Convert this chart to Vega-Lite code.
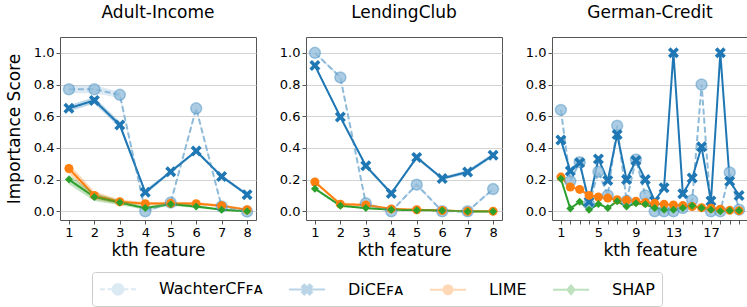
{
  "$schema": "https://vega.github.io/schema/vega-lite/v6.json",
  "padding": {"left": 4, "top": 3, "right": 0, "bottom": 0},
  "data": {"values": [
    {"p":"Adult-Income","k":1,"m":"WachterCF","v":0.77,"e":0.025},
    {"p":"Adult-Income","k":2,"m":"WachterCF","v":0.77,"e":0.025},
    {"p":"Adult-Income","k":3,"m":"WachterCF","v":0.735,"e":0.02},
    {"p":"Adult-Income","k":4,"m":"WachterCF","v":0.0,"e":0.01},
    {"p":"Adult-Income","k":5,"m":"WachterCF","v":0.055,"e":0.01},
    {"p":"Adult-Income","k":6,"m":"WachterCF","v":0.65,"e":0.01},
    {"p":"Adult-Income","k":7,"m":"WachterCF","v":0.03,"e":0.01},
    {"p":"Adult-Income","k":8,"m":"WachterCF","v":-0.002,"e":0.005},
    {"p":"Adult-Income","k":1,"m":"DiCE","v":0.65,"e":0.02},
    {"p":"Adult-Income","k":2,"m":"DiCE","v":0.7,"e":0.02},
    {"p":"Adult-Income","k":3,"m":"DiCE","v":0.545,"e":0.02},
    {"p":"Adult-Income","k":4,"m":"DiCE","v":0.12,"e":0.015},
    {"p":"Adult-Income","k":5,"m":"DiCE","v":0.25,"e":0.01},
    {"p":"Adult-Income","k":6,"m":"DiCE","v":0.38,"e":0.01},
    {"p":"Adult-Income","k":7,"m":"DiCE","v":0.22,"e":0.01},
    {"p":"Adult-Income","k":8,"m":"DiCE","v":0.105,"e":0.01},
    {"p":"Adult-Income","k":1,"m":"LIME","v":0.27,"e":0.03},
    {"p":"Adult-Income","k":2,"m":"LIME","v":0.1,"e":0.025},
    {"p":"Adult-Income","k":3,"m":"LIME","v":0.06,"e":0.015},
    {"p":"Adult-Income","k":4,"m":"LIME","v":0.048,"e":0.01},
    {"p":"Adult-Income","k":5,"m":"LIME","v":0.05,"e":0.01},
    {"p":"Adult-Income","k":6,"m":"LIME","v":0.048,"e":0.01},
    {"p":"Adult-Income","k":7,"m":"LIME","v":0.035,"e":0.01},
    {"p":"Adult-Income","k":8,"m":"LIME","v":0.01,"e":0.005},
    {"p":"Adult-Income","k":1,"m":"SHAP","v":0.2,"e":0.03},
    {"p":"Adult-Income","k":2,"m":"SHAP","v":0.09,"e":0.025},
    {"p":"Adult-Income","k":3,"m":"SHAP","v":0.055,"e":0.015},
    {"p":"Adult-Income","k":4,"m":"SHAP","v":0.02,"e":0.01},
    {"p":"Adult-Income","k":5,"m":"SHAP","v":0.045,"e":0.01},
    {"p":"Adult-Income","k":6,"m":"SHAP","v":0.03,"e":0.01},
    {"p":"Adult-Income","k":7,"m":"SHAP","v":0.01,"e":0.005},
    {"p":"Adult-Income","k":8,"m":"SHAP","v":0.0,"e":0.005},

    {"p":"LendingClub","k":1,"m":"WachterCF","v":1.0,"e":0.005},
    {"p":"LendingClub","k":2,"m":"WachterCF","v":0.845,"e":0.01},
    {"p":"LendingClub","k":3,"m":"WachterCF","v":0.05,"e":0.005},
    {"p":"LendingClub","k":4,"m":"WachterCF","v":0.0,"e":0.005},
    {"p":"LendingClub","k":5,"m":"WachterCF","v":0.168,"e":0.01},
    {"p":"LendingClub","k":6,"m":"WachterCF","v":0.0,"e":0.005},
    {"p":"LendingClub","k":7,"m":"WachterCF","v":0.0,"e":0.005},
    {"p":"LendingClub","k":8,"m":"WachterCF","v":0.14,"e":0.01},
    {"p":"LendingClub","k":1,"m":"DiCE","v":0.92,"e":0.01},
    {"p":"LendingClub","k":2,"m":"DiCE","v":0.595,"e":0.01},
    {"p":"LendingClub","k":3,"m":"DiCE","v":0.287,"e":0.01},
    {"p":"LendingClub","k":4,"m":"DiCE","v":0.113,"e":0.01},
    {"p":"LendingClub","k":5,"m":"DiCE","v":0.34,"e":0.01},
    {"p":"LendingClub","k":6,"m":"DiCE","v":0.207,"e":0.01},
    {"p":"LendingClub","k":7,"m":"DiCE","v":0.248,"e":0.012},
    {"p":"LendingClub","k":8,"m":"DiCE","v":0.354,"e":0.012},
    {"p":"LendingClub","k":1,"m":"LIME","v":0.185,"e":0.01},
    {"p":"LendingClub","k":2,"m":"LIME","v":0.045,"e":0.01},
    {"p":"LendingClub","k":3,"m":"LIME","v":0.04,"e":0.008},
    {"p":"LendingClub","k":4,"m":"LIME","v":0.015,"e":0.005},
    {"p":"LendingClub","k":5,"m":"LIME","v":0.01,"e":0.005},
    {"p":"LendingClub","k":6,"m":"LIME","v":0.005,"e":0.004},
    {"p":"LendingClub","k":7,"m":"LIME","v":0.0,"e":0.003},
    {"p":"LendingClub","k":8,"m":"LIME","v":0.0,"e":0.003},
    {"p":"LendingClub","k":1,"m":"SHAP","v":0.143,"e":0.008},
    {"p":"LendingClub","k":2,"m":"SHAP","v":0.035,"e":0.006},
    {"p":"LendingClub","k":3,"m":"SHAP","v":0.02,"e":0.005},
    {"p":"LendingClub","k":4,"m":"SHAP","v":0.01,"e":0.004},
    {"p":"LendingClub","k":5,"m":"SHAP","v":0.007,"e":0.004},
    {"p":"LendingClub","k":6,"m":"SHAP","v":0.005,"e":0.003},
    {"p":"LendingClub","k":7,"m":"SHAP","v":-0.002,"e":0.003},
    {"p":"LendingClub","k":8,"m":"SHAP","v":-0.002,"e":0.003},

    {"p":"German-Credit","k":1,"m":"WachterCF","v":0.64,"e":0.005},
    {"p":"German-Credit","k":2,"m":"WachterCF","v":0.19,"e":0.005},
    {"p":"German-Credit","k":3,"m":"WachterCF","v":0.31,"e":0.005},
    {"p":"German-Credit","k":4,"m":"WachterCF","v":0.045,"e":0.005},
    {"p":"German-Credit","k":5,"m":"WachterCF","v":0.25,"e":0.005},
    {"p":"German-Credit","k":6,"m":"WachterCF","v":0.1,"e":0.005},
    {"p":"German-Credit","k":7,"m":"WachterCF","v":0.54,"e":0.005},
    {"p":"German-Credit","k":8,"m":"WachterCF","v":0.065,"e":0.005},
    {"p":"German-Credit","k":9,"m":"WachterCF","v":0.327,"e":0.005},
    {"p":"German-Credit","k":10,"m":"WachterCF","v":0.1,"e":0.005},
    {"p":"German-Credit","k":11,"m":"WachterCF","v":0.0,"e":0.005},
    {"p":"German-Credit","k":12,"m":"WachterCF","v":0.0,"e":0.005},
    {"p":"German-Credit","k":13,"m":"WachterCF","v":0.0,"e":0.005},
    {"p":"German-Credit","k":14,"m":"WachterCF","v":0.02,"e":0.005},
    {"p":"German-Credit","k":15,"m":"WachterCF","v":0.07,"e":0.005},
    {"p":"German-Credit","k":16,"m":"WachterCF","v":0.8,"e":0.005},
    {"p":"German-Credit","k":17,"m":"WachterCF","v":0.0,"e":0.005},
    {"p":"German-Credit","k":18,"m":"WachterCF","v":0.0,"e":0.005},
    {"p":"German-Credit","k":19,"m":"WachterCF","v":0.245,"e":0.005},
    {"p":"German-Credit","k":20,"m":"WachterCF","v":0.01,"e":0.005},
    {"p":"German-Credit","k":1,"m":"DiCE","v":0.45,"e":0.005},
    {"p":"German-Credit","k":2,"m":"DiCE","v":0.254,"e":0.005},
    {"p":"German-Credit","k":3,"m":"DiCE","v":0.306,"e":0.005},
    {"p":"German-Credit","k":4,"m":"DiCE","v":0.06,"e":0.005},
    {"p":"German-Credit","k":5,"m":"DiCE","v":0.33,"e":0.005},
    {"p":"German-Credit","k":6,"m":"DiCE","v":0.195,"e":0.005},
    {"p":"German-Credit","k":7,"m":"DiCE","v":0.484,"e":0.005},
    {"p":"German-Credit","k":8,"m":"DiCE","v":0.2,"e":0.005},
    {"p":"German-Credit","k":9,"m":"DiCE","v":0.32,"e":0.005},
    {"p":"German-Credit","k":10,"m":"DiCE","v":0.2,"e":0.005},
    {"p":"German-Credit","k":11,"m":"DiCE","v":0.065,"e":0.005},
    {"p":"German-Credit","k":12,"m":"DiCE","v":0.149,"e":0.005},
    {"p":"German-Credit","k":13,"m":"DiCE","v":1.0,"e":0.005},
    {"p":"German-Credit","k":14,"m":"DiCE","v":0.111,"e":0.005},
    {"p":"German-Credit","k":15,"m":"DiCE","v":0.21,"e":0.005},
    {"p":"German-Credit","k":16,"m":"DiCE","v":0.407,"e":0.005},
    {"p":"German-Credit","k":17,"m":"DiCE","v":0.065,"e":0.005},
    {"p":"German-Credit","k":18,"m":"DiCE","v":1.0,"e":0.005},
    {"p":"German-Credit","k":19,"m":"DiCE","v":0.19,"e":0.005},
    {"p":"German-Credit","k":20,"m":"DiCE","v":0.1,"e":0.005},
    {"p":"German-Credit","k":1,"m":"LIME","v":0.216,"e":0.005},
    {"p":"German-Credit","k":2,"m":"LIME","v":0.153,"e":0.005},
    {"p":"German-Credit","k":3,"m":"LIME","v":0.138,"e":0.005},
    {"p":"German-Credit","k":4,"m":"LIME","v":0.1,"e":0.005},
    {"p":"German-Credit","k":5,"m":"LIME","v":0.09,"e":0.005},
    {"p":"German-Credit","k":6,"m":"LIME","v":0.084,"e":0.005},
    {"p":"German-Credit","k":7,"m":"LIME","v":0.073,"e":0.005},
    {"p":"German-Credit","k":8,"m":"LIME","v":0.069,"e":0.005},
    {"p":"German-Credit","k":9,"m":"LIME","v":0.063,"e":0.005},
    {"p":"German-Credit","k":10,"m":"LIME","v":0.055,"e":0.005},
    {"p":"German-Credit","k":11,"m":"LIME","v":0.05,"e":0.005},
    {"p":"German-Credit","k":12,"m":"LIME","v":0.044,"e":0.005},
    {"p":"German-Credit","k":13,"m":"LIME","v":0.04,"e":0.005},
    {"p":"German-Credit","k":14,"m":"LIME","v":0.036,"e":0.005},
    {"p":"German-Credit","k":15,"m":"LIME","v":0.03,"e":0.005},
    {"p":"German-Credit","k":16,"m":"LIME","v":0.023,"e":0.005},
    {"p":"German-Credit","k":17,"m":"LIME","v":0.019,"e":0.005},
    {"p":"German-Credit","k":18,"m":"LIME","v":0.013,"e":0.005},
    {"p":"German-Credit","k":19,"m":"LIME","v":0.006,"e":0.004},
    {"p":"German-Credit","k":20,"m":"LIME","v":0.004,"e":0.004},
    {"p":"German-Credit","k":1,"m":"SHAP","v":0.205,"e":0.005},
    {"p":"German-Credit","k":2,"m":"SHAP","v":0.017,"e":0.005},
    {"p":"German-Credit","k":3,"m":"SHAP","v":0.06,"e":0.005},
    {"p":"German-Credit","k":4,"m":"SHAP","v":0.01,"e":0.005},
    {"p":"German-Credit","k":5,"m":"SHAP","v":0.046,"e":0.005},
    {"p":"German-Credit","k":6,"m":"SHAP","v":0.021,"e":0.005},
    {"p":"German-Credit","k":7,"m":"SHAP","v":0.063,"e":0.005},
    {"p":"German-Credit","k":8,"m":"SHAP","v":0.03,"e":0.005},
    {"p":"German-Credit","k":9,"m":"SHAP","v":0.05,"e":0.005},
    {"p":"German-Credit","k":10,"m":"SHAP","v":0.044,"e":0.005},
    {"p":"German-Credit","k":11,"m":"SHAP","v":0.02,"e":0.005},
    {"p":"German-Credit","k":12,"m":"SHAP","v":0.01,"e":0.005},
    {"p":"German-Credit","k":13,"m":"SHAP","v":0.01,"e":0.005},
    {"p":"German-Credit","k":14,"m":"SHAP","v":0.02,"e":0.005},
    {"p":"German-Credit","k":15,"m":"SHAP","v":0.035,"e":0.005},
    {"p":"German-Credit","k":16,"m":"SHAP","v":0.02,"e":0.005},
    {"p":"German-Credit","k":17,"m":"SHAP","v":0.01,"e":0.005},
    {"p":"German-Credit","k":18,"m":"SHAP","v":0.0,"e":0.005},
    {"p":"German-Credit","k":19,"m":"SHAP","v":0.005,"e":0.004},
    {"p":"German-Credit","k":20,"m":"SHAP","v":0.005,"e":0.004}
  ]},
  "spacing": 21,
  "hconcat": [
    {
      "width": 196, "height": 183,
      "title": "Adult-Income",
      "transform": [{"filter": "datum.p == 'Adult-Income'"}],
      "encoding": {
        "x": {"field": "k", "type": "quantitative", "scale": {"domain": [0.65, 8.35], "nice": false, "zero": false},
              "axis": {"values": [1,2,3,4,5,6,7,8], "title": "kth feature"}},
        "y": {"field": "v", "type": "quantitative", "scale": {"domain": [-0.055, 1.1], "nice": false, "zero": false},
              "axis": {"values": [0,0.2,0.4,0.6,0.8,1.0], "format": ".1f", "title": "Importance Score"}}
      },
      "layer": [
        {"mark": {"type": "line", "strokeWidth": 2},
         "encoding": {
           "color": {"field": "m", "type": "nominal", "scale": {"domain": ["WachterCF","DiCE","LIME","SHAP"], "range": ["#8fbbd9","#1f77b4","#ff7f0e","#2ca02c"]},
             "legend": {
               "orient": "none", "legendX": 32, "legendY": 235, "direction": "horizontal", "columns": 4, "title": null,
               "labelFontSize": 16, "labelColor": "#000000", "labelFont": "DejaVu Sans",
               "symbolSize": 324, "symbolOffset": 9, "labelOffset": 31, "columnPadding": 22,
               "symbolStrokeWidth": 2, "symbolOpacity": 1,
               "padding": 7, "strokeColor": "#cccccc", "cornerRadius": 3, "fillColor": "#ffffff",
               "labelExpr": "datum.value == 'WachterCF' ? 'WachterCFꜰᴀ' : datum.value == 'DiCE' ? 'DiCEꜰᴀ' : datum.value"
             }},
           "strokeDash": {"condition": {"test": "datum.m == 'WachterCF'", "value": [6, 3]}, "value": [1, 0]}
         }},
        {"mark": {"type": "errorband", "band": {"opacity": 0.3}},
         "encoding": {"yError": {"field": "e"},
           "color": {"field": "m", "type": "nominal", "scale": {"domain": ["WachterCF","DiCE","LIME","SHAP"], "range": ["#8fbbd9","#1f77b4","#ff7f0e","#2ca02c"]}}}},
        {"mark": {"type": "point", "filled": true, "strokeWidth": 1.5, "opacity": 1},
         "encoding": {
           "color": {"field": "m", "type": "nominal", "scale": {"domain": ["WachterCF","DiCE","LIME","SHAP"], "range": ["#8fbbd9","#1f77b4","#ff7f0e","#2ca02c"]}},
           "shape": {"condition": [{"test": "datum.m == 'DiCE'", "value": "M0.538,-1L1,-0.538L0.462,0L1,0.538L0.538,1L0,0.462L-0.538,1L-1,0.538L-0.462,0L-1,-0.538L-0.538,-1L0,-0.462Z"}, {"test": "datum.m == 'SHAP'", "value": "diamond"}], "value": "circle"},
           "size": {"condition": [{"test": "datum.m == 'LIME'", "value": 81}, {"test": "datum.m == 'SHAP'", "value": 64}], "value": 121},
           "stroke": {"condition": {"test": "datum.m == 'WachterCF'", "value": "#1f77b4"}, "value": "transparent"},
           "fillOpacity": {"condition": {"test": "datum.m == 'WachterCF'", "value": 0.75}, "value": 1},
           "strokeOpacity": {"condition": {"test": "datum.m == 'WachterCF'", "value": 0.35}, "value": 1}
         }},
        {"transform": [{"filter": "false"}],
         "mark": {"type": "point", "filled": true},
         "encoding": {
           "color": {"field": "m", "type": "nominal", "scale": {"domain": ["WachterCF","DiCE","LIME","SHAP"], "range": ["#8fbbd9","#1f77b4","#ff7f0e","#2ca02c"]}},
           "shape": {"field": "m", "type": "nominal", "scale": {"domain": ["WachterCF","DiCE","LIME","SHAP"], "range": [
             "M-2,0H-1.45M-1.15,0H-0.6M0.6,0H1.15M1.45,0H2M0.6,0A0.6,0.6,0,1,1,-0.6,0A0.6,0.6,0,1,1,0.6,0Z",
             "M-2,0H2M0.3,-0.55L0.55,-0.3L0.25,0L0.55,0.3L0.3,0.55L0,0.25L-0.3,0.55L-0.55,0.3L-0.25,0L-0.55,-0.3L-0.3,-0.55L0,-0.25Z",
             "M-2,0H2M0.5,0A0.5,0.5,0,1,1,-0.5,0A0.5,0.5,0,1,1,0.5,0Z",
             "M-2,0H2M0,-0.5L0.4,0L0,0.5L-0.4,0Z"]}}
         }}
      ]
    },
    {
      "width": 196, "height": 183,
      "title": "LendingClub",
      "transform": [{"filter": "datum.p == 'LendingClub'"}],
      "encoding": {
        "x": {"field": "k", "type": "quantitative", "scale": {"domain": [0.65, 8.35], "nice": false, "zero": false},
              "axis": {"values": [1,2,3,4,5,6,7,8], "title": "kth feature"}},
        "y": {"field": "v", "type": "quantitative", "scale": {"domain": [-0.055, 1.1], "nice": false, "zero": false},
              "axis": {"values": [0,0.2,0.4,0.6,0.8,1.0], "format": ".1f", "title": null}}
      },
      "layer": [
        {"mark": {"type": "line", "strokeWidth": 2},
         "encoding": {
           "color": {"field": "m", "type": "nominal", "scale": {"domain": ["WachterCF","DiCE","LIME","SHAP"], "range": ["#8fbbd9","#1f77b4","#ff7f0e","#2ca02c"]}},
           "strokeDash": {"condition": {"test": "datum.m == 'WachterCF'", "value": [6, 3]}, "value": [1, 0]}
         }},
        {"mark": {"type": "errorband", "band": {"opacity": 0.3}},
         "encoding": {"yError": {"field": "e"},
           "color": {"field": "m", "type": "nominal", "scale": {"domain": ["WachterCF","DiCE","LIME","SHAP"], "range": ["#8fbbd9","#1f77b4","#ff7f0e","#2ca02c"]}}}},
        {"mark": {"type": "point", "filled": true, "strokeWidth": 1.5, "opacity": 1},
         "encoding": {
           "color": {"field": "m", "type": "nominal", "scale": {"domain": ["WachterCF","DiCE","LIME","SHAP"], "range": ["#8fbbd9","#1f77b4","#ff7f0e","#2ca02c"]}},
           "shape": {"condition": [{"test": "datum.m == 'DiCE'", "value": "M0.538,-1L1,-0.538L0.462,0L1,0.538L0.538,1L0,0.462L-0.538,1L-1,0.538L-0.462,0L-1,-0.538L-0.538,-1L0,-0.462Z"}, {"test": "datum.m == 'SHAP'", "value": "diamond"}], "value": "circle"},
           "size": {"condition": [{"test": "datum.m == 'LIME'", "value": 81}, {"test": "datum.m == 'SHAP'", "value": 64}], "value": 121},
           "stroke": {"condition": {"test": "datum.m == 'WachterCF'", "value": "#1f77b4"}, "value": "transparent"},
           "fillOpacity": {"condition": {"test": "datum.m == 'WachterCF'", "value": 0.75}, "value": 1},
           "strokeOpacity": {"condition": {"test": "datum.m == 'WachterCF'", "value": 0.35}, "value": 1}
         }}
      ]
    },
    {
      "width": 196, "height": 183,
      "title": "German-Credit",
      "transform": [{"filter": "datum.p == 'German-Credit'"}],
      "encoding": {
        "x": {"field": "k", "type": "quantitative", "scale": {"domain": [0.05, 20.95], "nice": false, "zero": false},
              "axis": {"values": [1,2,3,4,5,6,7,8,9,10,11,12,13,14,15,16,17,18,19,20], "labelExpr": "(datum.value - 1) % 4 == 0 ? datum.label : ''", "title": "kth feature"}},
        "y": {"field": "v", "type": "quantitative", "scale": {"domain": [-0.055, 1.1], "nice": false, "zero": false},
              "axis": {"values": [0,0.2,0.4,0.6,0.8,1.0], "format": ".1f", "title": null}}
      },
      "layer": [
        {"mark": {"type": "line", "strokeWidth": 2},
         "encoding": {
           "color": {"field": "m", "type": "nominal", "scale": {"domain": ["WachterCF","DiCE","LIME","SHAP"], "range": ["#8fbbd9","#1f77b4","#ff7f0e","#2ca02c"]}},
           "strokeDash": {"condition": {"test": "datum.m == 'WachterCF'", "value": [6, 3]}, "value": [1, 0]}
         }},
        {"mark": {"type": "errorband", "band": {"opacity": 0.3}},
         "encoding": {"yError": {"field": "e"},
           "color": {"field": "m", "type": "nominal", "scale": {"domain": ["WachterCF","DiCE","LIME","SHAP"], "range": ["#8fbbd9","#1f77b4","#ff7f0e","#2ca02c"]}}}},
        {"mark": {"type": "point", "filled": true, "strokeWidth": 1.5, "opacity": 1},
         "encoding": {
           "color": {"field": "m", "type": "nominal", "scale": {"domain": ["WachterCF","DiCE","LIME","SHAP"], "range": ["#8fbbd9","#1f77b4","#ff7f0e","#2ca02c"]}},
           "shape": {"condition": [{"test": "datum.m == 'DiCE'", "value": "M0.538,-1L1,-0.538L0.462,0L1,0.538L0.538,1L0,0.462L-0.538,1L-1,0.538L-0.462,0L-1,-0.538L-0.538,-1L0,-0.462Z"}, {"test": "datum.m == 'SHAP'", "value": "diamond"}], "value": "circle"},
           "size": {"condition": [{"test": "datum.m == 'LIME'", "value": 81}, {"test": "datum.m == 'SHAP'", "value": 64}], "value": 121},
           "stroke": {"condition": {"test": "datum.m == 'WachterCF'", "value": "#1f77b4"}, "value": "transparent"},
           "fillOpacity": {"condition": {"test": "datum.m == 'WachterCF'", "value": 0.75}, "value": 1},
           "strokeOpacity": {"condition": {"test": "datum.m == 'WachterCF'", "value": 0.35}, "value": 1}
         }}
      ]
    }
  ],
  "config": {
    "font": "DejaVu Sans",
    "view": {"stroke": "#555555", "strokeWidth": 1},
    "axis": {"domain": false, "labelFontSize": 13, "labelColor": "#000000", "titleFontSize": 17, "titleFontWeight": "normal", "titleColor": "#000000",
             "tickColor": "#555555", "tickSize": 4, "labelPadding": 2, "gridColor": "#d3d3d3", "gridWidth": 1},
    "axisX": {"grid": false, "titlePadding": 3},
    "axisY": {"titlePadding": 10},
    "title": {"fontSize": 17, "fontWeight": "normal", "offset": 15, "color": "#000000"}
  }
}
